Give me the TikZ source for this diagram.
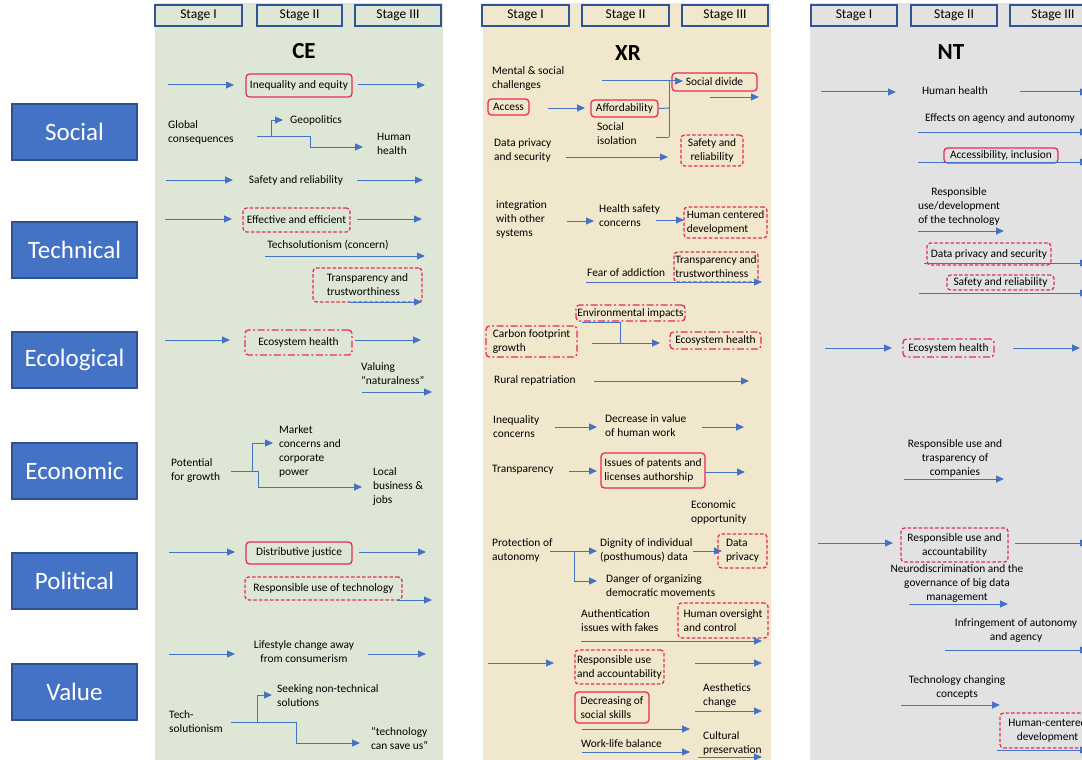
\documentclass[tikz,border=0pt]{standalone}
\usepackage{fontspec}
\setmainfont{Carlito}
\usetikzlibrary{arrows.meta}

\definecolor{cepanel}{RGB}{222,231,213}
\definecolor{xrpanel}{RGB}{241,231,204}
\definecolor{ntpanel}{RGB}{226,226,226}
\definecolor{catfill}{RGB}{68,114,196}
\definecolor{catedge}{RGB}{47,82,143}
\definecolor{stageedge}{RGB}{47,85,151}
\definecolor{flowblue}{RGB}{68,114,196}
\definecolor{boxred}{RGB}{230,45,85}

\newcommand\sm{\fontsize{11.4}{14}\selectfont}
% straight arrow between two named end points: name, x1, x2, y
\newcommand\flow[4]{%
  \coordinate (#1a) at (#2,#4);
  \coordinate (#1b) at (#3,#4);
  \draw[arr] (#1a) -- (#1b);}

\begin{document}
\begin{tikzpicture}[x=1pt,y=-1pt,
  lt/.style={anchor=west,align=left,inner sep=0pt,font=\sm},
  ct/.style={anchor=center,align=center,inner sep=0pt,font=\sm},
  arr/.style={draw=flowblue,line width=1pt,-{Triangle[length=8pt,width=7pt]}},
  ln/.style={draw=flowblue,line width=1pt},
  bx/.style={draw=boxred,line width=1.3pt,rounded corners=3.5pt,inner sep=0pt,font=\sm,align=center},
  bsolid/.style={bx},
  bdash/.style={bx,dash pattern=on 3.5pt off 2pt},
  bdashdot/.style={bx,dash pattern=on 7pt off 2.5pt on 2pt off 2.5pt},
  stagebox/.style={draw=stageedge,line width=1.6pt,inner sep=0pt,minimum height=21pt,font=\fontsize{13.5}{16}\selectfont},
  catbox/.style={draw=catedge,line width=1.2pt,fill=catfill,text=white,minimum width=125pt,minimum height=56pt,inner sep=0pt,font=\fontsize{25}{28}\selectfont},
  ttl/.style={inner sep=0pt,font=\fontsize{23}{26}\selectfont\bfseries}]

\clip (0,0) rectangle (1082,760);
\fill[white] (0,0) rectangle (1082,760);

% column panels
\fill[cepanel] (155,3) rectangle (443,760);
\fill[xrpanel] (483,3) rectangle (771,760);
\fill[ntpanel] (810,3) rectangle (1082,760);

% stage headers
\node[stagebox,minimum width=87pt] (ceS1) at (198.5,15.5) {Stage I};
\node[stagebox,minimum width=85pt] (ceS2) at (299.5,15.5) {Stage II};
\node[stagebox,minimum width=86pt] (ceS3) at (398,15.5) {Stage III};
\node[stagebox,minimum width=87pt] (xrS1) at (525.5,15.5) {Stage I};
\node[stagebox,minimum width=87pt] (xrS2) at (625.5,15.5) {Stage II};
\node[stagebox,minimum width=86pt] (xrS3) at (725,15.5) {Stage III};
\node[stagebox,minimum width=86pt] (ntS1) at (854,15.5) {Stage I};
\node[stagebox,minimum width=86pt] (ntS2) at (954,15.5) {Stage II};
\node[stagebox,minimum width=86pt] (ntS3) at (1053,15.5) {Stage III};

% dimension labels
\node[catbox] (catSoc) at (74.5,132) {Social};
\node[catbox] (catTec) at (74.5,250) {Technical};
\node[catbox] (catEco) at (74.5,360) {Ecological};
\node[catbox] (catEcn) at (74.5,471) {Economic};
\node[catbox] (catPol) at (74.5,581) {Political};
\node[catbox] (catVal) at (74.5,692) {Value};

% ---------------- CE ----------------
\node[ttl] (ceT) at (304,51) {CE};
\flow{ce1}{168}{234}{85}
\node[bsolid,minimum width=106pt,minimum height=23pt] (ceIneq) at (299,85.5) {Inequality and equity};
\flow{ce2}{358}{425}{85}

\node[lt] (ceGlob) at (168,132) {Global\\consequences};
\node[lt] (ceGeo) at (290,120) {Geopolitics};
\node[lt] (ceHum) at (377,144) {Human\\health};
\coordinate (ceG0) at (257,136);
\coordinate (ceG1) at (271,136);
\coordinate (ceG2) at (310,136);
\coordinate (ceGa) at (283,120);
\coordinate (ceGb) at (363,147);
\draw[arr] (ceG0) -- (ceG2) |- (ceGb);
\draw[arr] (ceG1) |- (ceGa);

\flow{ce3}{166}{233}{180}
\node[ct] (ceSafe) at (296,180) {Safety and reliability};
\flow{ce4}{357}{423}{180}

\flow{ce5}{165}{232}{219}
\node[bdash,minimum width=107pt,minimum height=24pt] (ceEff) at (296.5,220) {Effective and efficient};
\flow{ce6}{357}{422}{219}

\node[ct] (ceTechs) at (328,245) {Techsolutionism (concern)};
\flow{ce7}{265}{425}{256}

\node[bdash,minimum width=109pt,minimum height=34pt,align=left] (ceTrans) at (367.5,285) {Transparency and\\trustworthiness};
\flow{ce8}{350}{422}{302}

\flow{ce9}{165}{230}{340}
\node[bdashdot,minimum width=107pt,minimum height=25pt] (ceEco) at (298.5,342.5) {Ecosystem health};
\flow{ce10}{355}{421}{340}

\node[lt] (ceVal) at (361,374) {Valuing\\“naturalness”};
\flow{ce11}{362}{432}{392}

\node[lt] (cePot) at (171,471) {Potential\\for growth};
\node[lt] (ceMkt) at (279,451) {Market\\concerns and\\corporate\\power};
\node[lt] (ceLoc) at (373,487) {Local\\business \&\\jobs};
\coordinate (ceP0) at (231,471);
\coordinate (ceP1) at (252,471);
\coordinate (ceP2) at (258,471);
\coordinate (cePa) at (273,443);
\coordinate (cePb) at (362,487);
\draw[arr] (ceP0) -- (ceP2) |- (cePb);
\draw[arr] (ceP1) |- (cePa);

\flow{ce12}{169}{235}{552}
\node[bsolid,minimum width=106pt,minimum height=22pt] (ceDist) at (299,553) {Distributive justice};
\flow{ce13}{359}{426}{552}

\node[bdash,minimum width=157pt,minimum height=23pt] (ceResp) at (323.5,588.5) {Responsible use of technology};
\flow{ce14}{397}{432}{600}

\flow{ce15}{169}{235}{654}
\node[ct] (ceLife) at (304,652) {Lifestyle change away\\from consumerism};
\flow{ce16}{368}{426}{654}

\node[lt] (ceTsol) at (169,722) {Tech-\\solutionism};
\node[lt] (ceSeek) at (277,696) {Seeking non-technical\\solutions};
\node[lt] (ceSave) at (371,738) {“technology\\can save us”};
\coordinate (ceT0) at (231,722);
\coordinate (ceT1) at (257,722);
\coordinate (ceT2) at (296,722);
\coordinate (ceTa) at (272,695);
\coordinate (ceTb) at (360,743);
\draw[arr] (ceT0) -- (ceT2) |- (ceTb);
\draw[arr] (ceT1) |- (ceTa);

% ---------------- XR ----------------
\node[ttl] (xrT) at (628,53) {XR};
\node[lt] (xrMent) at (492,79) {Mental \& social\\challenges};
\node[bsolid,minimum width=85pt,minimum height=18pt] (xrDiv) at (714.5,82) {Social divide};
\node[bsolid,minimum width=41pt,minimum height=16pt] (xrAcc) at (508.5,107) {Access};
\node[bsolid,minimum width=67pt,minimum height=17pt] (xrAff) at (624.5,108.5) {Affordability};
\node[lt] (xrIso) at (597,134) {Social\\isolation};
\coordinate (xrM0) at (602,81);
\coordinate (xrMtip) at (683,81);
\coordinate (xrJ1) at (669,81);
\coordinate (xrJ2) at (669,108);
\coordinate (xrJ3) at (669,137);
\coordinate (xrI0) at (656,137);
\draw[arr] (xrM0) -- (xrMtip);
\draw[ln] (xrJ1) -- (xrJ3);
\draw[ln] (xrAff.east) -- (xrJ2);
\draw[ln] (xrI0) -- (xrJ3);
\flow{xr1}{710}{759}{97}
\flow{xr2}{548}{585}{108}

\node[lt] (xrDps) at (494,150) {Data privacy\\and security};
\flow{xr3}{566}{668}{157}
\node[bdash,minimum width=62pt,minimum height=31pt] (xrSafe) at (712,150.5) {Safety and\\reliability};

\node[lt] (xrInt) at (496,219) {integration\\with other\\systems};
\flow{xr4}{567}{594}{221}
\node[lt] (xrHsc) at (599,216) {Health safety\\concerns};
\flow{xr5}{656}{684}{220}
\node[bdash,minimum width=83pt,minimum height=31pt,align=left] (xrHcd) at (725.5,222.5) {Human centered\\development};

\node[bdash,minimum width=84pt,minimum height=30pt,align=left] (xrTrans) at (716,267) {Transparency and\\trustworthiness};
\node[lt] (xrFear) at (587,273) {Fear of addiction};
\flow{xr6}{586}{762}{282}

\node[bdashdot,minimum width=109pt,minimum height=16pt] (xrEnv) at (630.5,313) {Environmental impacts};
\node[bdashdot,minimum width=91pt,minimum height=31pt,align=left] (xrCarb) at (531.5,341.5) {Carbon footprint\\growth};
\node[bdashdot,minimum width=91pt,minimum height=17pt] (xrEco) at (715.5,340.5) {Ecosystem health};
\coordinate (xrE0) at (582,322);
\coordinate (xrE1) at (620,322);
\coordinate (xrE2) at (620,343);
\draw[ln] (xrE0) -- (xrE1) -- (xrE2);
\flow{xr7}{592}{660}{343}

\node[lt] (xrRur) at (494,380) {Rural repatriation};
\flow{xr8}{594}{749}{381}

\node[lt] (xrIneq) at (493,427) {Inequality\\concerns};
\flow{xr9}{555}{597}{427}
\node[lt] (xrDec) at (605,426) {Decrease in value\\of human work};
\flow{xr10}{702}{744}{427}

\node[lt] (xrTra) at (492,470) {Transparency};
\flow{xr11}{569}{597}{471}
\node[bsolid,minimum width=104pt,minimum height=35pt,align=left] (xrPat) at (653,470.5) {Issues of patents and\\licenses authorship};
\flow{xr12}{705}{745}{472}

\node[lt] (xrEcop) at (691,512) {Economic\\opportunity};
\node[lt] (xrProt) at (492,550) {Protection of\\autonomy};
\node[lt] (xrDign) at (600,550) {Dignity of individual\\(posthumous) data};
\node[lt] (xrDang) at (606,586) {Danger of organizing\\democratic movements};
\coordinate (xrP0) at (550,551);
\coordinate (xrP1) at (574,551);
\coordinate (xrPa) at (597,551);
\coordinate (xrPb) at (597,581);
\draw[arr] (xrP0) -- (xrPa);
\draw[arr] (xrP1) |- (xrPb);
\flow{xr13}{693}{722}{551}
\node[bdash,minimum width=49pt,minimum height=34pt,align=left] (xrDpv) at (742.5,551) {Data\\privacy};

\node[lt] (xrAuth) at (581,621) {Authentication\\issues with fakes};
\node[bdash,minimum width=90pt,minimum height=35pt,align=left] (xrHov) at (723,620.5) {Human oversight\\and control};
\flow{xr14}{581}{762}{641}

\flow{xr15}{488}{554}{663}
\node[bdash,minimum width=89pt,minimum height=34pt,align=left] (xrResp) at (619.5,667) {Responsible use\\and accountability};
\flow{xr16}{695}{762}{663}

\node[bsolid,minimum width=74pt,minimum height=31pt,align=left] (xrDecr) at (612,707.5) {Decreasing of\\social skills};
\node[lt] (xrAes) at (703,696) {Aesthetics\\change};
\flow{xr17}{695}{762}{711}
\flow{xr18}{582}{690}{729}
\node[lt] (xrWork) at (581,744) {Work-life balance};
\flow{xr19}{582}{690}{752}
\node[lt] (xrCult) at (703,743) {Cultural\\preservation};
\flow{xr20}{698}{762}{757}

% ---------------- NT ----------------
\node[ttl] (ntT) at (951,52) {NT};
\flow{nt1}{821}{896}{92}
\node[ct] (ntHum) at (955,91) {Human health};
\flow{nt2}{1020}{1088}{92}

\node[ct] (ntEff) at (1000,119) {Effects on agency and autonomy};
\flow{nt3}{918}{1088}{132}

\node[bsolid,minimum width=114pt,minimum height=15pt] (ntAcc) at (1001,155.5) {Accessibility, inclusion};
\flow{nt4}{918}{1088}{162}

\node[ct] (ntRud) at (959,207) {Responsible\\use/development\\of the technology};
\flow{nt5}{918}{1004}{231}

\node[bdash,minimum width=124pt,minimum height=22pt] (ntDps) at (989,254) {Data privacy and security};
\flow{nt6}{924}{1088}{263}
\node[bdash,minimum width=107pt,minimum height=15pt] (ntSafe) at (1000.5,282.5) {Safety and reliability};
\flow{nt7}{919}{1088}{293}

\flow{nt8}{825}{892}{348}
\node[bdashdot,minimum width=91pt,minimum height=18pt] (ntEco) at (948.5,348) {Ecosystem health};
\flow{nt9}{1013}{1080}{348}

\node[ct] (ntRut) at (955,458) {Responsible use and\\trasparency of\\companies};
\flow{nt10}{904}{1004}{479}

\flow{nt11}{818}{893}{543}
\node[bdash,minimum width=107pt,minimum height=34pt] (ntResp) at (954.5,545) {Responsible use and\\accountability};
\flow{nt12}{1015}{1088}{543}

\node[ct] (ntNeu) at (957,584) {Neurodiscrimination and the\\governance of big data\\management};
\flow{nt13}{909}{1008}{604}

\node[ct] (ntInf) at (1016,631) {Infringement of autonomy\\and agency};
\flow{nt14}{945}{1088}{650}

\node[ct] (ntTcc) at (957,687) {Technology changing\\concepts};
\flow{nt15}{901}{1000}{705}
\node[bdash,minimum width=95pt,minimum height=35pt] (ntHcd) at (1047.5,730.5) {Human-centered\\development};
\flow{nt16}{997}{1088}{750}

\end{tikzpicture}
\end{document}
